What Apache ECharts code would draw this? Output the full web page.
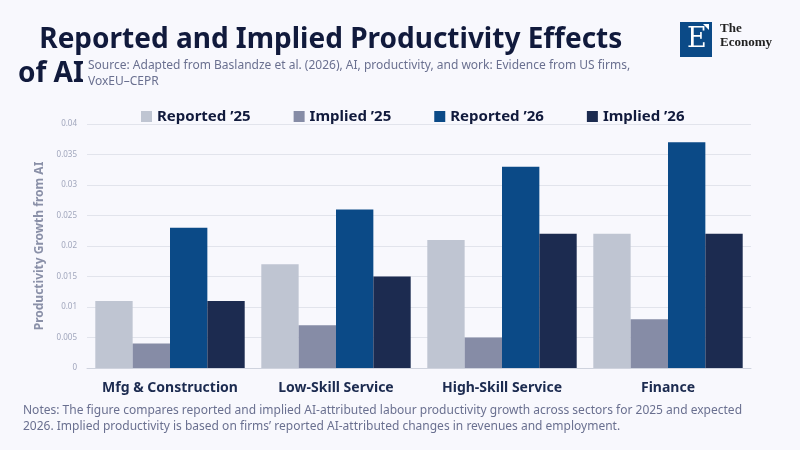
<!DOCTYPE html>
<html>
<head>
<meta charset="utf-8">
<title>Reported and Implied Productivity Effects of AI</title>
<script src="https://cdn.jsdelivr.net/npm/echarts@6/dist/echarts.min.js"></script>
<style>
  html, body { margin: 0; padding: 0; background: #f8f8fd; }
  #main { width: 800px; height: 450px; }
</style>
</head>
<body>
<div id="main"></div>
<script type="text/javascript">
// sectors on the x axis
var sectors = ['Mfg & Construction', 'Low-Skill Service', 'High-Skill Service', 'Finance'];
// productivity growth attributed to AI, per sector
var reported25 = [0.011, 0.017, 0.021, 0.022];
var implied25  = [0.004, 0.007, 0.005, 0.008];
var reported26 = [0.023, 0.026, 0.033, 0.037];
var implied26  = [0.011, 0.015, 0.022, 0.022];
var seriesNames = ['Reported \u201925', 'Implied \u201925', 'Reported \u201926', 'Implied \u201926'];
var colors = ['#bfc5d2', '#868ca6', '#0b4a87', '#1c2b50'];

var font = '"Noto Sans", "Open Sans", sans-serif';

var myChart = echarts.init(document.getElementById('main'));

function bar(i, data) {
  return {
    name: seriesNames[i],
    type: 'bar',
    data: data,
    barGap: '0%',
    barCategoryGap: '10%',
    itemStyle: { color: colors[i] }
  };
}

var option = {
  backgroundColor: '#f8f8fd',
  textStyle: { fontFamily: font },
  graphic: [
    { type: 'text', left: 32, top: 26, style: { text: ' Reported and Implied Productivity Effects', font: 'bold 28px ' + font, fill: '#111a3c' } },
    { type: 'text', left: 18, top: 60, style: { text: 'of AI', font: 'bold 28px ' + font, fill: '#111a3c' } },
    { type: 'text', left: 88, top: 58, style: { text: 'Source: Adapted from Baslandze et al. (2026), AI, productivity, and work: Evidence from US firms,\nVoxEU\u2013CEPR', font: '12px ' + font, fill: '#6a7090', lineHeight: 16 } },
    // logo
    { type: 'rect', left: 680, top: 22, shape: { width: 32, height: 35 }, style: { fill: '#0b4a87' } },
    { type: 'text', left: 687, top: 26, style: { text: 'E', font: '27px "DejaVu Serif", serif', fill: '#ffffff' } },
    { type: 'polygon', shape: { points: [[703, 24], [709, 24], [709, 30]] }, style: { fill: '#ffffff' } },
    { type: 'text', left: 720, top: 22, style: { text: 'The\nEconomy', font: 'bold 13px "Liberation Serif", serif', fill: '#222222', lineHeight: 14 } },
    // notes
    { type: 'text', left: 23, top: 403, style: { text: 'Notes: The figure compares reported and implied AI-attributed labour productivity growth across sectors for 2025 and expected\n2026. Implied productivity is based on firms\u2019 reported AI-attributed changes in revenues and employment.', font: '12px ' + font, fill: '#6a7090', lineHeight: 16 } }
  ],
  legend: {
    top: 104,
    left: 136,
    itemWidth: 11,
    itemHeight: 11,
    itemGap: 43,
    icon: 'rect',
    textStyle: { fontSize: 15, fontWeight: 'bold', color: '#111a3c', fontFamily: font }
  },
  grid: { left: 87, right: 49, top: 124, bottom: 82 },
  xAxis: {
    type: 'category',
    data: sectors,
    axisTick: { show: false },
    axisLine: { lineStyle: { color: '#cfd3de' } },
    axisLabel: { interval: 0, fontSize: 14, fontWeight: 'bold', color: '#1c2b50', margin: 13, fontFamily: font }
  },
  yAxis: {
    type: 'value',
    min: 0,
    max: 0.04,
    interval: 0.005,
    name: 'Productivity Growth from AI',
    nameLocation: 'middle',
    nameGap: 30,
    nameTextStyle: { fontSize: 12, fontWeight: 'bold', color: '#8a90a8', fontFamily: font },
    axisLabel: { fontSize: 8, color: '#a0a6bc', margin: 10 },
    splitLine: { lineStyle: { color: '#e2e4ec' } }
  },
  series: [
    bar(0, reported25),
    bar(1, implied25),
    bar(2, reported26),
    bar(3, implied26)
  ]
};

myChart.setOption(option);
</script>
</body>
</html>
